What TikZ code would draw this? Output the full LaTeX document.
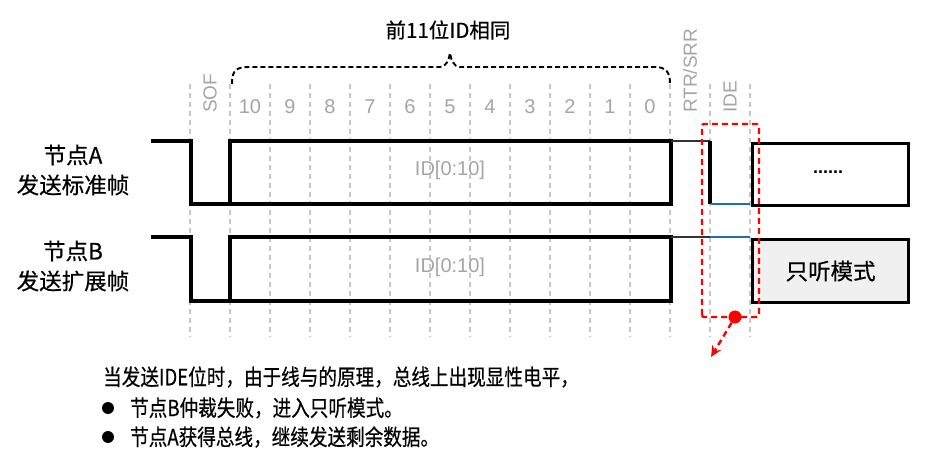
\documentclass[tikz,border=0pt]{standalone}
\usepackage{fontspec}
\setmainfont{Liberation Sans}
\newfontfamily\cjk[FakeBold=0.5]{Noto Sans CJK SC}
\usetikzlibrary{arrows.meta}
\definecolor{lgray}{RGB}{200,200,200}
\definecolor{tgray}{RGB}{165,165,165}
\definecolor{busblue}{RGB}{30,110,190}
\definecolor{boxfill}{RGB}{240,240,240}
\definecolor{myred}{RGB}{255,0,0}
\tikzset{
  grid/.style={lgray, line width=1.4pt, dash pattern=on 5pt off 4pt},
  sig/.style={black, line width=3.2pt, line join=miter},
  thin/.style={black!80, line width=1.4pt},
  busline/.style={busblue, line width=2.4pt},
  bitlbl/.style={tgray, font=\fontsize{20}{22}\selectfont, inner sep=0pt},
  rotlbl/.style={tgray, font=\fontsize{19}{22}\selectfont, inner sep=0pt, rotate=90, anchor=west},
  idlbl/.style={tgray, font=\fontsize{20}{24}\selectfont, inner sep=0pt},
  nodelbl/.style={font=\cjk\fontsize{22.5}{30}\selectfont, align=center, inner sep=0pt},
  redbox/.style={myred, line width=2.4pt, dash pattern=on 6pt off 4pt},
  bodytxt/.style={font=\cjk\fontsize{18.6}{22}\selectfont, inner sep=0pt, anchor=west},
}
\begin{document}
\begin{tikzpicture}[x=1pt,y=-1pt]
\useasboundingbox (0,0) rectangle (927,457);
% grid lines
\foreach \k in {0,...,14} {
  \draw[grid] (190+40*\k,84) -- (190+40*\k,337);
}
% bit labels
\node[rotlbl] (sof) at (210,113) {SOF};
\foreach \n [count=\i from 0] in {10,9,8,7,6,5,4,3,2,1,0} {
  \node[bitlbl] (b\n) at (250+40*\i,107) {\n};
}
\node[rotlbl] (rtr) at (690,113) {RTR/SRR};
\node[rotlbl] (ide) at (730,113) {IDE};
% brace
\draw[black, line width=1.9pt, dash pattern=on 5pt off 3pt]
  (232,84) .. controls (232,70) and (236,67) .. (250,67) -- (440,67)
  .. controls (446,67) and (449,60) .. (450,53)
  .. controls (451,60) and (454,67) .. (460,67) -- (655,67)
  .. controls (666,67) and (670,72) .. (670,84);
\node[font=\cjk\fontsize{20.5}{24}\selectfont, inner sep=0pt] (title) at (448,30) {前11位ID相同};
% node labels
\node[nodelbl] (na) at (73,170) {节点A\\发送标准帧};
\node[nodelbl] (nb) at (73,266) {节点B\\发送扩展帧};
% signal A
\draw[sig] (151,141) -- (191,141) -- (191,204) -- (671,204) -- (671,141) -- (230,141) -- (230,204);
\draw[thin] (671,141) -- (710,141);
\draw[sig] (710,141) -- (710,204);
\draw[busline] (711,204) -- (750,204);
\node[draw, line width=3.2pt, minimum width=156pt, minimum height=62pt, anchor=north west, inner sep=0pt] (dots) at (751,142) {};
\node[font=\bfseries\fontsize{18}{20}\selectfont, inner sep=0pt] (dtxt) at (828,172) {......};
% signal B
\draw[sig] (151,237) -- (191,237) -- (191,301) -- (671,301) -- (671,237) -- (230,237) -- (230,301);
\draw[thin] (671,237) -- (710,237);
\draw[busline] (710,237) -- (750,237);
\node[draw, fill=boxfill, line width=3.2pt, minimum width=156pt, minimum height=63pt, anchor=north west, inner sep=0pt, font=\cjk\fontsize{22.5}{26}\selectfont] (listen) at (751,238) {只听模式};
% ID labels
\node[idlbl] (ida) at (450,170) {ID[0:10]};
\node[idlbl] (idb) at (450,267) {ID[0:10]};
% red box
\draw[redbox, rounded corners=2pt] (702,317) -- (702,124) -- (759,124) -- (759,317) -- cycle;
\node[circle, fill=myred, inner sep=0pt, minimum size=13pt] (dot) at (735,317) {};
\coordinate (tip) at (711,357);
\draw[redbox, -{Stealth[length=11pt,width=10pt]}] (dot) -- (tip);
% bottom text
\node[bodytxt] (l1) at (103,377) {\scalebox{1}[1.2]{当发送IDE位时，由于线与的原理，总线上出现显性电平，}};
\node[circle, fill=black, inner sep=0pt, minimum size=12pt] (bul1) at (108,408) {};
\node[bodytxt] (l2) at (130,408) {\scalebox{1}[1.2]{节点B仲裁失败，进入只听模式。}};
\node[circle, fill=black, inner sep=0pt, minimum size=12pt] (bul2) at (108,437) {};
\node[bodytxt] (l3) at (130,437) {\scalebox{1}[1.2]{节点A获得总线，继续发送剩余数据。}};
\end{tikzpicture}
\end{document}
